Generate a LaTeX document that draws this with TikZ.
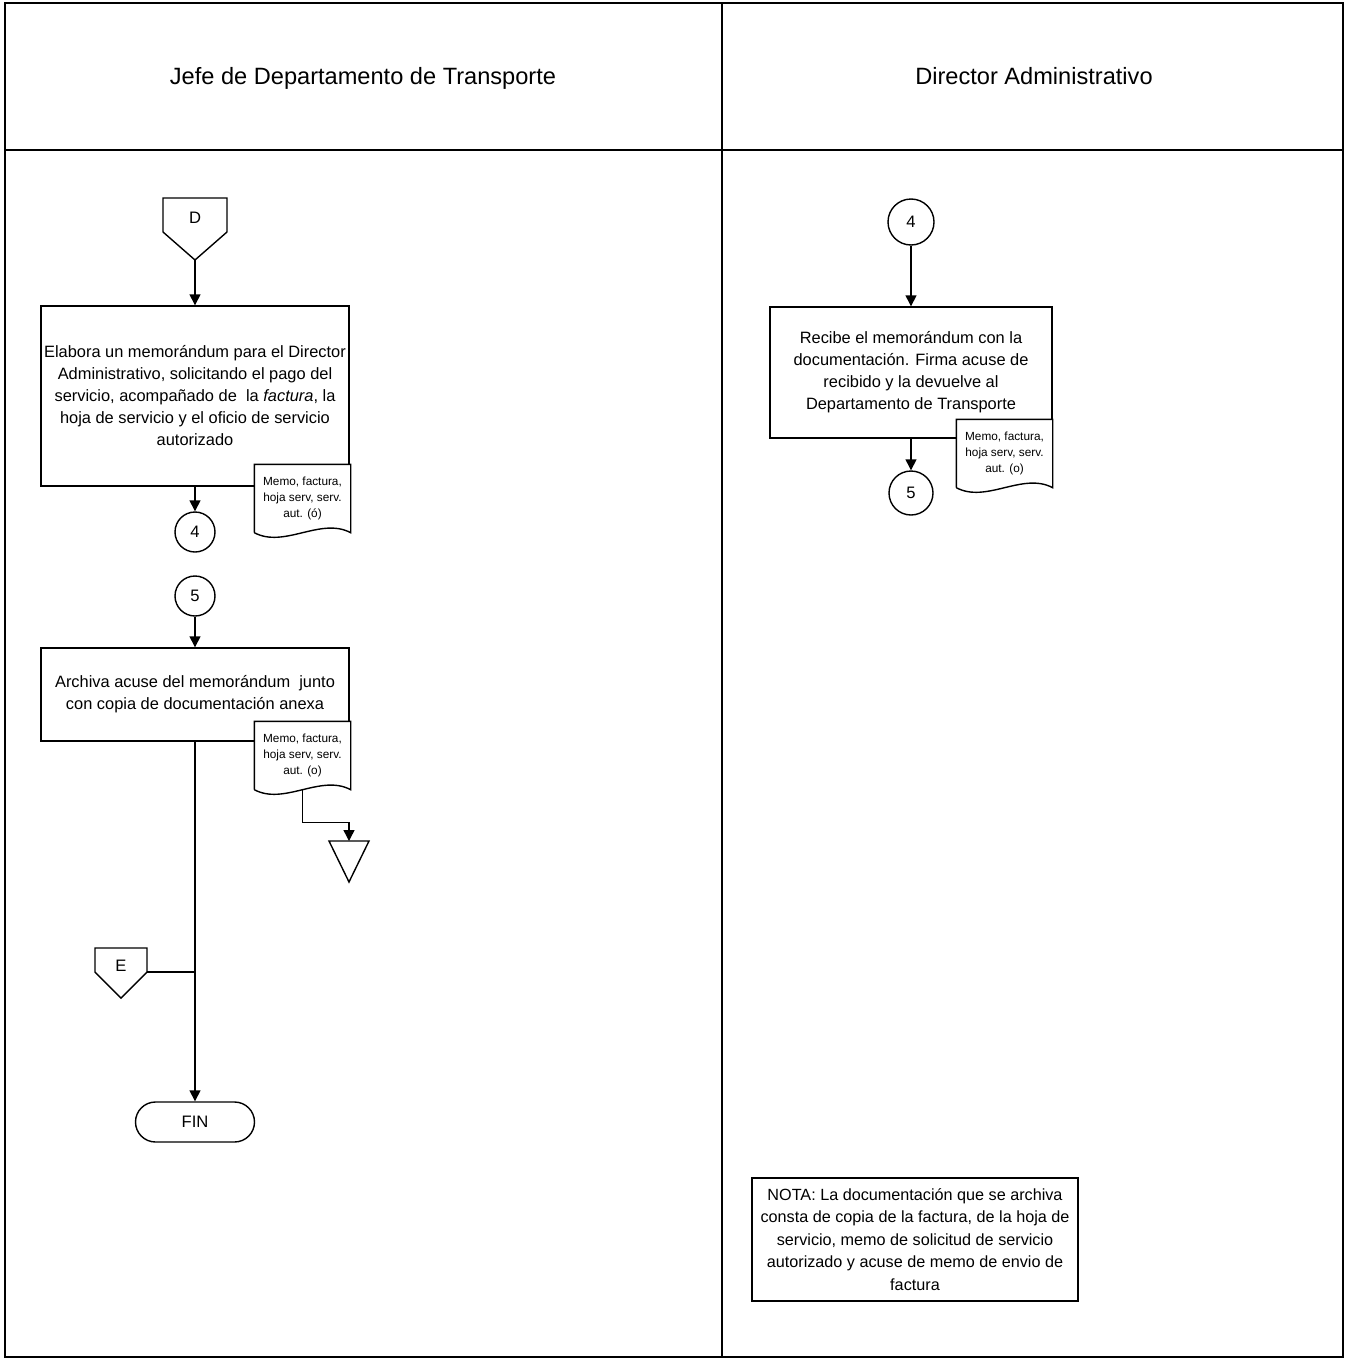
\documentclass[tikz,border=0pt]{standalone}
\usepackage{fontspec}
\setmainfont{Liberation Sans}
\usetikzlibrary{arrows.meta,positioning}

\begin{document}
\begin{tikzpicture}[x=0.5pt,y=-0.5pt,line width=0.7pt,
	titulo/.style={anchor=base,font=\fontsize{11.8}{14}\selectfont},
	caja/.style={draw,rectangle,align=center,inner sep=0pt,font=\fontsize{8.2}{11}\selectfont},
	docu/.style={rectangle,fill=white,align=center,inner sep=0pt,minimum width=47.5pt,minimum height=33.5pt,font=\fontsize{5.9}{8}\selectfont},
	conector/.style={draw,circle,inner sep=0pt,font=\fontsize{8.3}{10}\selectfont},
	letra/.style={inner sep=0pt,font=\fontsize{8.3}{10}\selectfont},
	flecha/.style={-{Triangle[length=5.5pt,width=5.5pt]}}]
			\useasboundingbox (0,0) rectangle (1347,1360);
			% carriles
			\draw (5,3) rectangle (1343,1357);
			\draw (722,3) -- (722,1357);
			\draw (5,150) -- (1343,150);
			\node[titulo] (jefe) at (363,84) {Jefe de Departamento de Transporte};
			\node[titulo] (director) at (1034,84) {Director Administrativo};
			% Jefe de Departamento de Transporte
			\draw (163,198) -- (227,198) -- (227,232) -- (195,260) -- (163,232) -- cycle;
			\node[letra] (D) at (195,218) {D};
			\coordinate (puntaD) at (195,260);
			\node[caja,minimum width=154pt,minimum height=90pt] (elabora) at (195,396) {Elabora un memorándum para el Director\\ Administrativo, solicitando el pago del\\ servicio, acompañado de~ la \textit{factura}, la\\ hoja de servicio y el oficio de servicio\\ autorizado};
			\node[docu] (memo1) at (302.5,498.5) {Memo, factura,\\ hoja serv, serv.\\ aut. (ó)};
			\draw (memo1.south west) -- (memo1.north west) -- (memo1.north east) -- (memo1.south east) .. controls +(-30,-16) and +(30,16) .. (memo1.south west);
			\node[conector,minimum size=20pt] (cuatroA) at (195,532) {4};
			\node[conector,minimum size=20pt] (cincoA) at (195,596) {5};
			\node[caja,minimum width=154pt,minimum height=46.5pt] (archiva) at (195,694.5) {Archiva acuse del memorándum~ junto\\ con copia de documentación anexa};
			\node[docu] (memo2) at (302.5,755.5) {Memo, factura,\\ hoja serv, serv.\\ aut. (o)};
			\draw (memo2.south west) -- (memo2.north west) -- (memo2.north east) -- (memo2.south east) .. controls +(-30,-16) and +(30,16) .. (memo2.south west);
			\draw (329,841) -- (369,841) -- (349,882) -- cycle;
			\coordinate (archivo) at (349,841);
			\draw (95,948) -- (147,948) -- (147,972) -- (121,998) -- (95,972) -- cycle;
			\node[letra] (E) at (121,966) {E};
			\coordinate (ladoE) at (147,972);
			\coordinate (unionE) at (195,972);
			\node[draw,rounded corners=10pt,minimum width=59.5pt,minimum height=20pt,letra] (fin) at (195,1122) {FIN};
			\draw[flecha] (puntaD) -- (elabora);
			\draw[flecha] (elabora) -- (cuatroA);
			\draw[flecha] (cincoA) -- (archiva);
			\draw[flecha] (memo2.south) -- ++(0,33) -| (archivo);
			\draw[flecha] (archiva) -- (fin);
			\draw (ladoE) -- (unionE);
			% Director Administrativo
			\node[conector,minimum size=23pt] (cuatroB) at (911,222) {4};
			\node[caja,minimum width=141pt,minimum height=65.5pt] (recibe) at (911,372.5) {Recibe el memorándum con la\\ documentación. Firma acuse de\\ recibido y la devuelve al\\ Departamento de Transporte};
			\node[docu] (memo3) at (1004.5,453.5) {Memo, factura,\\ hoja serv, serv.\\ aut. (o)};
			\draw (memo3.south west) -- (memo3.north west) -- (memo3.north east) -- (memo3.south east) .. controls +(-30,-16) and +(30,16) .. (memo3.south west);
			\node[conector,minimum size=22pt] (cincoB) at (911,493) {5};
			\draw[flecha] (cuatroB) -- (recibe);
			\draw[flecha] (recibe) -- (cincoB);
			\node[caja,minimum width=163pt,minimum height=61.5pt,font=\fontsize{8.1}{11.25}\selectfont] (nota) at (915,1239.5) {NOTA: La documentación que se archiva\\ consta de copia de la factura, de la hoja de\\ servicio, memo de solicitud de servicio\\ autorizado y acuse de memo de envio de\\ factura};
\end{tikzpicture}
\end{document}
